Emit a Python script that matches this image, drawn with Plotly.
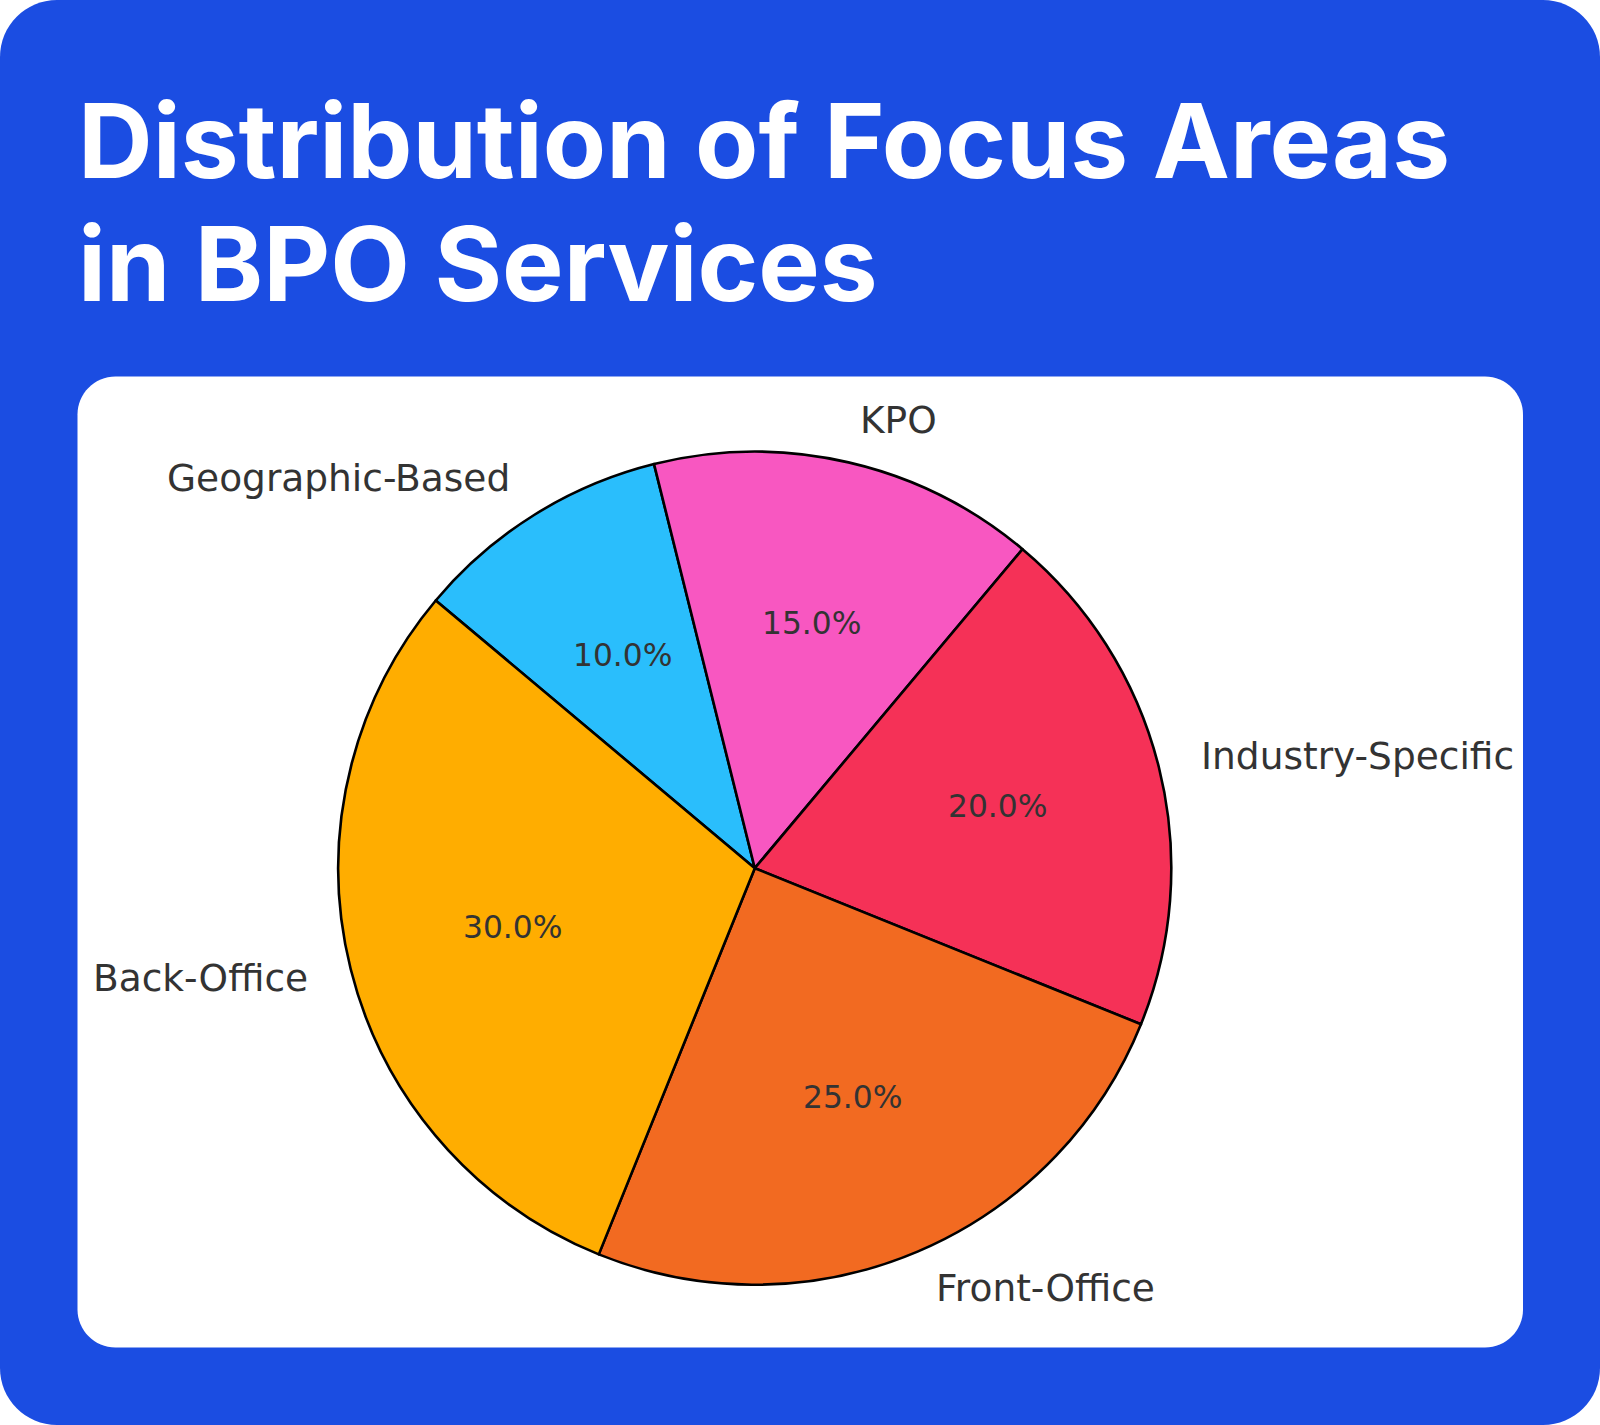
import math
import plotly.graph_objects as go

# ---- data ----
categories = ["Back-Office", "Front-Office", "Industry-Specific", "KPO", "Geographic-Based"]
shares = [30, 25, 20, 15, 10]
colors = ["#FFAD00", "#F26A21", "#F53157", "#F857C1", "#2ABEFC"]
title_lines = ["Distribution of Focus Areas", "in BPO Services"]

# ---- geometry (pixels) ----
W, H = 1600, 1425
CX, CY, R = 754.8, 868.2, 416.5
START = 140.0  # degrees, counterclockwise like matplotlib
TEXT_DY = -1.5

def px(x):
    return x / W

def py(y):
    return 1 - y / H

def rounded_rect(x0, y0, x1, y1, r):
    k = 0.5523 * r
    pts = [
        ("M", [(x0 + r, y0)]),
        ("L", [(x1 - r, y0)]),
        ("C", [(x1 - r + k, y0), (x1, y0 + r - k), (x1, y0 + r)]),
        ("L", [(x1, y1 - r)]),
        ("C", [(x1, y1 - r + k), (x1 - r + k, y1), (x1 - r, y1)]),
        ("L", [(x0 + r, y1)]),
        ("C", [(x0 + r - k, y1), (x0, y1 - r + k), (x0, y1 - r)]),
        ("L", [(x0, y0 + r)]),
        ("C", [(x0, y0 + r - k), (x0 + r - k, y0), (x0 + r, y0)]),
    ]
    s = ""
    for cmd, ps in pts:
        s += cmd + " " + " ".join(f"{px(a):.6f},{py(b):.6f}" for a, b in ps) + " "
    return s + "Z"

fig = go.Figure()

total = sum(shares)
fig.add_trace(go.Pie(
    labels=categories[::-1],
    values=shares[::-1],
    sort=False,
    direction="clockwise",
    rotation=90 - START,
    marker=dict(colors=colors[::-1], line=dict(color="#000000", width=2.6)),
    textinfo="none",
    hoverinfo="skip",
    showlegend=False,
    domain=dict(x=[px(CX - R), px(CX + R)], y=[py(CY + R), py(CY - R)]),
))

annotations = []
ang = START
for cat, v in zip(categories, shares):
    span = 360.0 * v / total
    mid = math.radians(ang + span / 2)
    ang += span
    c, s = math.cos(mid), math.sin(mid)
    # outer category label
    lx, ly = CX + 1.1 * R * c, CY - 1.1 * R * s + TEXT_DY
    annotations.append(dict(
        x=px(lx), y=py(ly), xref="paper", yref="paper", showarrow=False,
        text=cat, xanchor="left" if c > 0 else "right", yanchor="middle",
        font=dict(family="DejaVu Sans", size=37.5, color="#333333"),
    ))
    # percentage label
    tx, ty = CX + 0.6 * R * c, CY - 0.6 * R * s + TEXT_DY
    annotations.append(dict(
        x=px(tx), y=py(ty), xref="paper", yref="paper", showarrow=False,
        text=f"{100.0 * v / total:.1f}%", xanchor="center", yanchor="middle",
        font=dict(family="DejaVu Sans", size=31.3, color="#333333"),
    ))

title_y = [140.5, 263.5]
for line, yy in zip(title_lines, title_y):
    annotations.append(dict(
        x=px(75.5), y=py(yy), xref="paper", yref="paper", showarrow=False,
        text=f"<b>{line}</b>", xanchor="left", yanchor="middle",
        font=dict(family="Inter", size=103.4, color="#FFFFFF"),
    ))

shapes = [
    dict(type="path", xref="paper", yref="paper", layer="below",
         path=rounded_rect(0, 0, W, H, 57), fillcolor="#1B4DE2", line=dict(width=0)),
    dict(type="path", xref="paper", yref="paper", layer="below",
         path=rounded_rect(77.5, 376.5, 1523, 1347.5, 38), fillcolor="#FFFFFF", line=dict(width=0)),
]

fig.update_layout(
    width=W, height=H,
    margin=dict(l=0, r=0, t=0, b=0),
    paper_bgcolor="#FFFFFF",
    plot_bgcolor="rgba(0,0,0,0)",
    shapes=shapes,
    annotations=annotations,
)

fig.write_html("out.html")
